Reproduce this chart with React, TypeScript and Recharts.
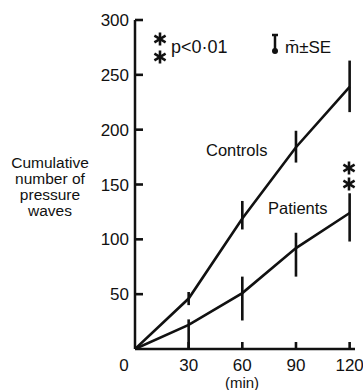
import React from 'react';
import { LineChart, Line, XAxis, YAxis, ErrorBar, Customized, ReferenceDot } from 'recharts';

const minutes = [0, 30, 60, 90, 120];
const controls = [0, 46, 119, 184, 239];
const controlsErr: [number, number][] = [[0, 0], [6, 6], [10, 16], [14, 15], [23, 24]];
const patients = [0, 22, 51, 92, 124];
const patientsErr: [number, number][] = [[0, 0], [22, 5], [25, 15], [26, 14], [26, 18]];
const xTicks = [0, 30, 60, 90, 120];
const yTicks = [50, 100, 150, 200, 250, 300];
const yLabelLines = ['Cumulative', 'number of', 'pressure', 'waves'];

const data = minutes.map((t, i) => ({
  t,
  controls: controls[i],
  controlsErr: controlsErr[i],
  patients: patients[i],
  patientsErr: patientsErr[i],
}));

const INK = '#111';
const FONT = '"Liberation Sans", Arial, sans-serif';

const XTick = (props: any) => {
  const { x, y, payload } = props;
  const v = payload.value;
  return (
    <text x={v === 0 ? x - 11 : x} y={y} dy="0.36em" textAnchor="middle" fontFamily={FONT} fontSize={17} fill={INK}>
      {v}
    </text>
  );
};

const YTick = (props: any) => {
  const { x, y, payload } = props;
  return (
    <text x={x} y={y} dy="0.36em" textAnchor="end" fontFamily={FONT} fontSize={17} fill={INK}>
      {payload.value}
    </text>
  );
};

const YTickMark = (p: any) => (
  <line x1={p.cx} x2={p.cx + 8} y1={p.cy} y2={p.cy} stroke={INK} strokeWidth={2.6} />
);
const XTickMark = (p: any) => (
  <line x1={p.cx} x2={p.cx} y1={p.cy} y2={p.cy - 7} stroke={INK} strokeWidth={2.6} />
);

const Star = ({ x, y }: { x: number; y: number }) => (
  <g stroke={INK} strokeWidth={2.6} strokeLinecap="butt">
    <line x1={x} y1={y - 6.5} x2={x} y2={y + 6.5} />
    <line x1={x - 5.6} y1={y - 3.3} x2={x + 5.6} y2={y + 3.3} />
    <line x1={x - 5.6} y1={y + 3.3} x2={x + 5.6} y2={y - 3.3} />
  </g>
);

const Annotations = () => (
  <g fontFamily={FONT} fill={INK}>
    {yLabelLines.map((s, i) => (
      <text key={s} x={50} y={162 + i * 16} dy="0.36em" textAnchor="middle" fontSize={15.5}>
        {s}
      </text>
    ))}
    <Star x={160} y={39} />
    <Star x={160} y={57} />
    <text x={171} y={47} dy="0.36em" fontSize={18}>p&lt;0·01</text>
    <line x1={275} x2={275} y1={35} y2={51} stroke={INK} strokeWidth={2.5} />
    <line x1={272} x2={278} y1={35} y2={35} stroke={INK} strokeWidth={2.5} />
    <circle cx={275} cy={51} r={3} fill={INK} />
    <text x={285} y={47} dy="0.36em" fontSize={17}>m̄±SE</text>
    <text x={206} y={150} dy="0.36em" fontSize={16.5}>Controls</text>
    <text x={268} y={208} dy="0.36em" fontSize={16.5}>Patients</text>
    <Star x={349} y={168} />
    <Star x={349} y={184} />
    <text x={242} y={383} dy="0.36em" textAnchor="middle" fontSize={15}>(min)</text>
  </g>
);

export default function App() {
  return (
    <div style={{ position: 'absolute', left: 0, top: 0, background: '#fff' }}>
      <LineChart width={363} height={390} data={data} margin={{ top: 20, right: 8, bottom: 11, left: 75 }}>
        <XAxis
          dataKey="t"
          type="number"
          domain={[0, 123]}
          ticks={xTicks}
          tick={<XTick />}
          tickLine={false}
          tickSize={0}
          tickMargin={16}
          axisLine={{ stroke: INK, strokeWidth: 2.5 }}
          height={30}
          allowDataOverflow
        />
        <YAxis
          type="number"
          domain={[0, 300]}
          ticks={yTicks}
          tick={<YTick />}
          tickLine={false}
          tickSize={0}
          tickMargin={6}
          axisLine={{ stroke: INK, strokeWidth: 2.5 }}
          width={60}
          allowDataOverflow
        />
        {yTicks.map((v) => (
          <ReferenceDot key={'y' + v} x={0} y={v} ifOverflow="visible" shape={YTickMark} />
        ))}
        {xTicks.filter((v) => v !== 0).map((v) => (
          <ReferenceDot key={'x' + v} x={v} y={0} ifOverflow="visible" shape={XTickMark} />
        ))}
        <Line dataKey="controls" type="linear" stroke={INK} strokeWidth={2.6} dot={false} isAnimationActive={false}>
          <ErrorBar dataKey="controlsErr" width={0} stroke={INK} strokeWidth={2.6} isAnimationActive={false} />
        </Line>
        <Line dataKey="patients" type="linear" stroke={INK} strokeWidth={2.6} dot={false} isAnimationActive={false}>
          <ErrorBar dataKey="patientsErr" width={0} stroke={INK} strokeWidth={2.6} isAnimationActive={false} />
        </Line>
        <Customized component={Annotations} />
      </LineChart>
    </div>
  );
}
